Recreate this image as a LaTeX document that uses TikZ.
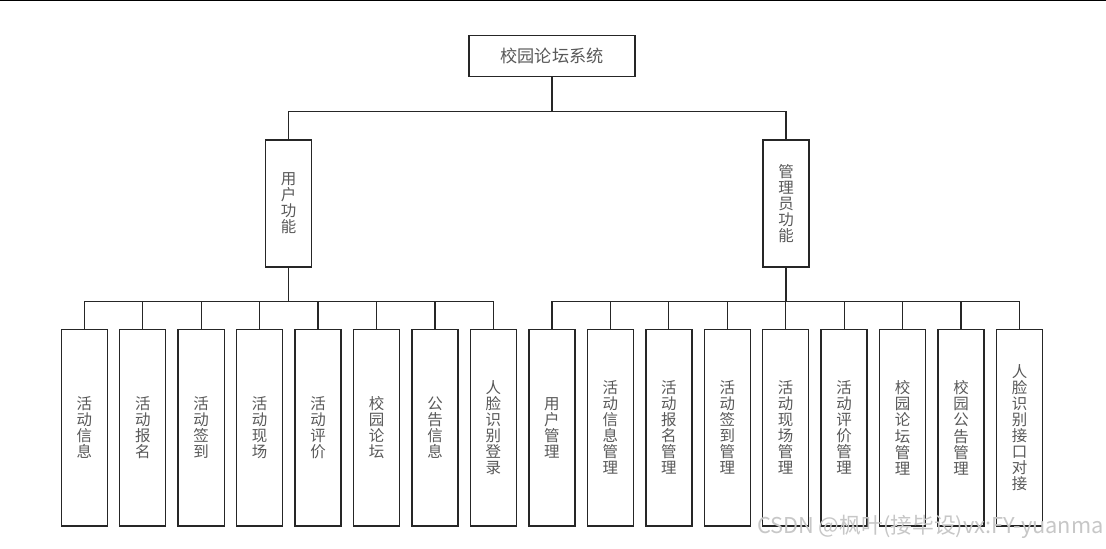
\documentclass[tikz,border=0pt]{standalone}
\usepackage{fontspec}
\setmainfont{Noto Sans CJK SC}
\begin{document}
\begin{tikzpicture}[x=0.025cm,y=-0.025cm,
  box/.style={draw=black!85,line width=1pt,fill=white,inner sep=0pt,align=center,
    text=black!65,font=\fontsize{11}{11.4}\selectfont},
  leaf/.style={box,minimum width=1.15cm,minimum height=4.9cm},
  mid/.style={box,minimum width=1.15cm,minimum height=3.18cm},
  link/.style={draw=black!85,line width=0.9pt}]
\useasboundingbox (0,0) rectangle (1106,548);
\draw[line width=1.2pt] (0,0) -- (1106,0);

% top and second level
\node[box,minimum width=4.15cm,minimum height=1.025cm,font=\fontsize{12.2}{13}\selectfont] (sys) at (552,55.8) {校园论坛系统};
\node[mid] (user) at (288.5,203.5) {用\\户\\功\\能};
\node[mid] (admin) at (786,203.5) {管\\理\\员\\功\\能};

% leaves
\foreach \t [count=\i] in {活\\动\\信\\息,活\\动\\报\\名,活\\动\\签\\到,活\\动\\现\\场,
  活\\动\\评\\价,校\\园\\论\\坛,公\\告\\信\\息,人\\脸\\识\\别\\登\\录}
{
\node[leaf] (u\i) at ({84.3+58.45*(\i-1)},427.8) {\t};
}
\foreach \t [count=\i] in {用\\户\\管\\理,活\\动\\信\\息\\管\\理,活\\动\\报\\名\\管\\理,
  活\\动\\签\\到\\管\\理,活\\动\\现\\场\\管\\理,活\\动\\评\\价\\管\\理,
  校\\园\\论\\坛\\管\\理,校\\园\\公\\告\\管\\理,人\\脸\\识\\别\\接\\口\\对\\接}
{
\node[leaf] (a\i) at ({84.3+58.45*(\i+7)},427.8) {\t};
}

% connectors
\draw[link] (sys.south) -- ++(0,34.7) coordinate (b0);
\draw[link] (user.north) |- (b0) -| (admin.north);
\draw[link] (user.south) -- ++(0,34) coordinate (bu);
\draw[link] (admin.south) -- ++(0,34) coordinate (ba);
\foreach \i in {1,...,8}
{
\draw[link] (bu) -| (u\i.north);
}
\foreach \i in {1,...,9}
{
\draw[link] (ba) -| (a\i.north);
}

\node[text=black!22,font=\fontsize{15.5}{15.5}\selectfont,anchor=east,inner sep=0pt] (wmark) at (1104,527) {CSDN @枫叶(接毕设)vx:FY-yuanma};
\end{tikzpicture}
\end{document}
